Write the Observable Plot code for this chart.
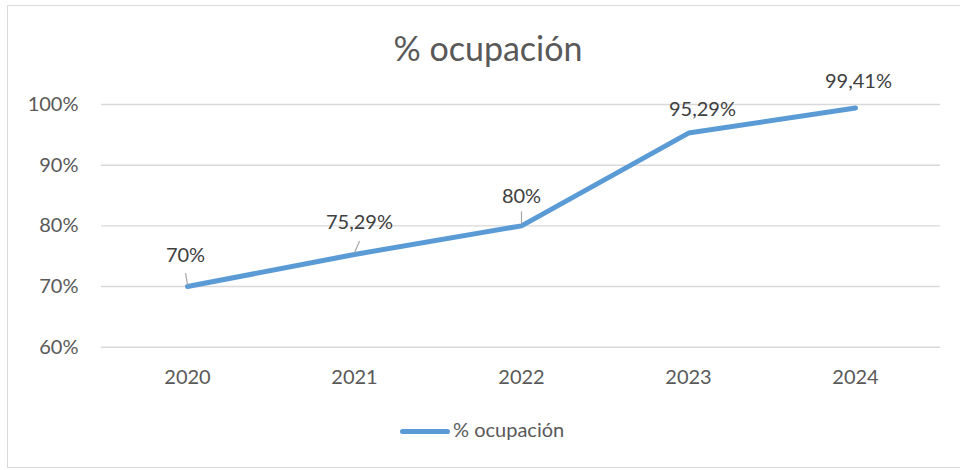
<!DOCTYPE html>
<html><head><meta charset="utf-8">
<script src="https://cdn.jsdelivr.net/npm/d3@7"></script>
<script src="https://cdn.jsdelivr.net/npm/@observablehq/plot@0.6"></script>
<style>
body{margin:0;background:#fff;}
#wrap{position:relative;width:960px;height:470px;overflow:hidden;font-family:Lato,sans-serif;background:#fff;}
#frame{position:absolute;left:7px;top:5px;width:1000px;height:461px;border:1.5px solid #d9d9d9;}
#title{position:absolute;left:0;width:976px;top:28px;text-align:center;font-size:34px;line-height:40px;color:#595959;}
#chart{position:absolute;left:0;top:40px;}
#swatch{position:absolute;left:400px;top:429px;width:50px;height:5px;border-radius:3px;background:#5B9BD5;}
#legtext{position:absolute;left:453px;top:419px;font-size:20px;line-height:20px;color:#595959;white-space:nowrap;}
</style></head>
<body>
<div id="wrap">
  <div id="frame"></div>
  <div id="title"></div>
  <div id="chart"></div>
  <div id="swatch"></div>
  <div id="legtext"></div>
</div>
<script>
const seriesName = "% ocupación";
const years = ["2020", "2021", "2022", "2023", "2024"];
const ocupacion = [0.70, 0.7529, 0.80, 0.9529, 0.9941];
const yTicks = [0.6, 0.7, 0.8, 0.9, 1.0];

const data = years.map((y, i) => ({year: y, value: ocupacion[i]}));
const fmtPct = v => {
  const s = (Math.round(v * 10000) / 100).toFixed(2).replace(/\.?0+$/, "");
  return s.replace(".", ",") + "%";
};

document.getElementById("title").textContent = seriesName;
document.getElementById("legtext").textContent = seriesName;

// label placement (pixel nudges, styling only)
const labelNudge = [[-2, -31], [5, -32], [0, -29], [14, -23], [3, -26]];
const leaderStyle = [
  {i: 0, rotate: -10, length: 11, dy: -2},
  {i: 1, rotate: 24, length: 12, dy: -2},
  {i: 2, rotate: 0, length: 11, dy: -3}
];
const lineShape = {draw(ctx, l) { ctx.moveTo(0, 0); ctx.lineTo(0, -l); }};

const marks = [
  Plot.ruleY(yTicks, {stroke: "#d9d9d9", strokeWidth: 1.4}),
  Plot.axisY(yTicks, {tickSize: 0, tickPadding: 23, tickFormat: d => Math.round(d * 100) + "%", fill: "#595959"}),
  Plot.axisX({tickSize: 0, tickPadding: 23, fill: "#595959"}),
  Plot.line(data, {x: "year", y: "value", stroke: "#5B9BD5", strokeWidth: 5, strokeLinecap: "round", strokeLinejoin: "round"})
];
leaderStyle.forEach(s => {
  marks.push(Plot.vector([data[s.i]], {x: "year", y: "value", length: s.length, rotate: s.rotate, anchor: "start", dy: s.dy, shape: lineShape, stroke: "#a6a6a6", strokeWidth: 1.2}));
});
data.forEach((d, i) => {
  marks.push(Plot.text([d], {x: "year", y: "value", text: r => fmtPct(r.value), dx: labelNudge[i][0], dy: labelNudge[i][1], fill: "#404040", fontSize: 20, lineAnchor: "middle"}));
});

const plot = Plot.plot({
  width: 960,
  height: 360,
  marginLeft: 101,
  marginRight: 20,
  marginTop: 64,
  marginBottom: 53.3,
  style: {fontFamily: "Lato, sans-serif", fontSize: "20px", color: "#595959", background: "transparent"},
  x: {type: "point", domain: years, padding: 0.5, label: null},
  y: {domain: [0.6, 1.0], label: null},
  marks
});
document.getElementById("chart").appendChild(plot);
</script>
</body></html>
